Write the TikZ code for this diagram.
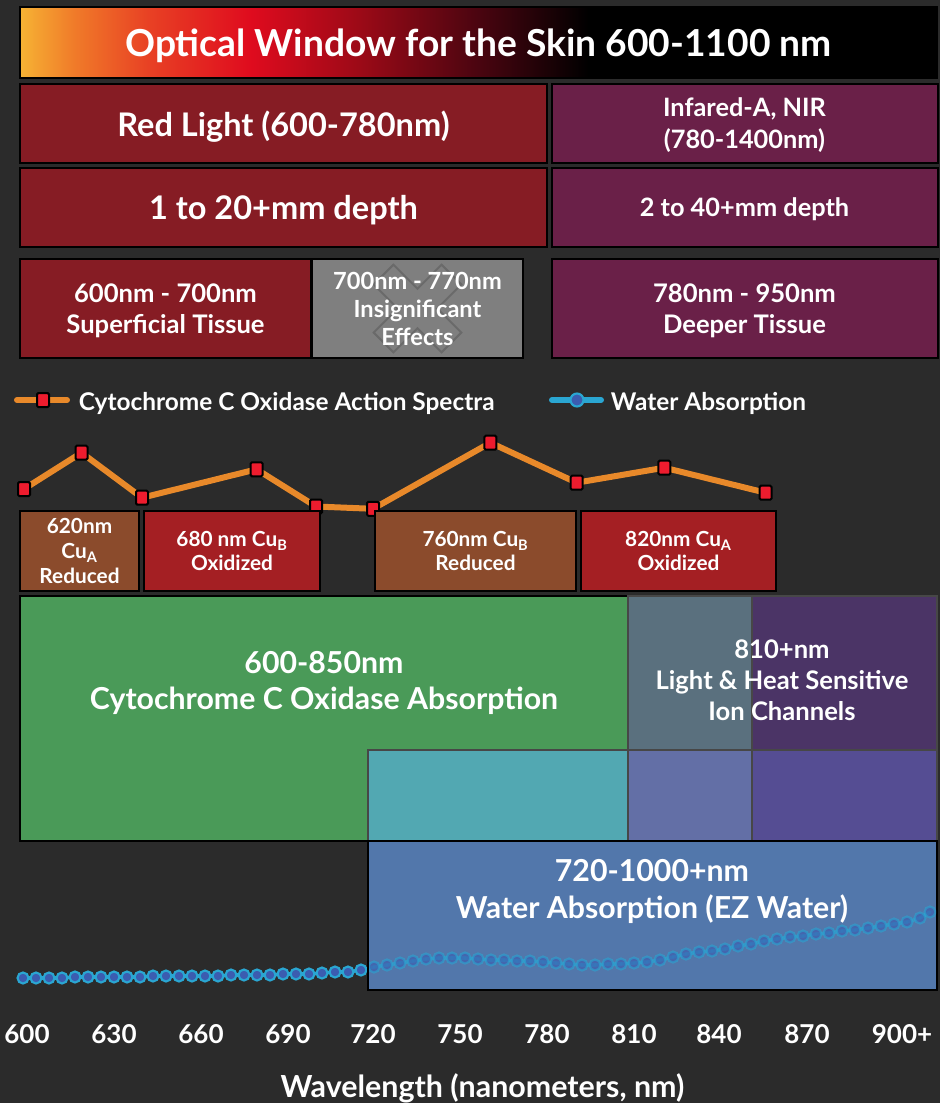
\documentclass[tikz,border=0pt]{standalone}
\usepackage{fontspec}
\setmainfont{Lato}
\usetikzlibrary{positioning}

\newcommand{\pxu}{0.75pt}

\definecolor{bgdark}{HTML}{2B2B2B}
\definecolor{redband}{HTML}{861C24}
\definecolor{nirband}{HTML}{6A2048}
\definecolor{greyband}{HTML}{7F7F7F}
\definecolor{xline}{HTML}{6A6A6A}
\definecolor{specorange}{HTML}{E8892A}
\definecolor{specred}{HTML}{EE1C2E}
\definecolor{wline}{HTML}{2AA6D2}
\definecolor{wfill}{HTML}{3B5CB0}
\definecolor{cubrown}{HTML}{8B4B2C}
\definecolor{cured}{HTML}{A41F23}
\definecolor{ccogreen}{HTML}{4A9A58}
\definecolor{ionslate}{HTML}{5A707E}
\definecolor{ionpurple}{HTML}{4B3466}
\definecolor{mixteal}{HTML}{52A8B2}
\definecolor{mixlav}{HTML}{636FA6}
\definecolor{mixviolet}{HTML}{554D93}
\definecolor{ezblue}{HTML}{5277AB}
\definecolor{blockedge}{HTML}{474747}
\definecolor{wgold}{HTML}{F6B334}
\definecolor{worange}{HTML}{F07A29}
\definecolor{wflame}{HTML}{E84124}
\definecolor{wred}{HTML}{DF0B1E}
\definecolor{wcrimson}{HTML}{9C0A17}
\definecolor{wmaroon}{HTML}{4A0510}

\pgfdeclarehorizontalshading{skinwindow}{100bp}{color(0bp)=(wgold); color(25bp)=(wgold); color(28bp)=(worange); color(32bp)=(wflame); color(37.6bp)=(wred); color(43.5bp)=(wcrimson); color(50bp)=(wmaroon); color(56bp)=(black); color(100bp)=(black)}

\tikzset{every picture/.style={line width=0.75pt},
  band/.style={draw=black, line width=1.5pt, inner sep=0pt, text=white, align=center, text depth=0pt},
  titlebar/.style={band, shade, shading=skinwindow, font=\fontsize{27.9}{33}\selectfont\bfseries},
  bigtxt/.style={font=\fontsize{24.4}{29}\selectfont\bfseries},
  midtxt/.style={font=\fontsize{19}{24}\selectfont\bfseries},
  rowtxt/.style={font=\fontsize{19.2}{23.5}\selectfont\bfseries},
  gaptxt/.style={font=\fontsize{17.7}{21}\selectfont\bfseries, text=white, align=center},
  legendtxt/.style={font=\fontsize{18.3}{21}\selectfont\bfseries, text=white, anchor=west, text depth=0pt},
  cubox/.style={band, minimum height=80*\pxu, font=\fontsize{15.6}{18.5}\selectfont\bfseries},
  block/.style={draw=blockedge, line width=1.1pt},
  specline/.style={specorange, line width=6*\pxu, line cap=round},
  specmark/.style={draw=black, fill=specred, line width=1.5pt, rounded corners=1pt,
    minimum width=12*\pxu, minimum height=14*\pxu, inner sep=0pt},
  waterline/.style={wline, line width=3.5*\pxu, line cap=round},
  waterdot/.style={circle, draw=wline, fill=wfill, line width=1.6pt, minimum size=11*\pxu, inner sep=0pt},
  ticklabel/.style={font=\fontsize{19.5}{22}\selectfont\bfseries, text=white, text depth=0pt},
  xmark/.style={path picture={\draw[xline, line width=1.5pt, shift={(path picture bounding box.center)}]
    (0,-19.8) -- (24.04,-43.84) -- (43.84,-24.04) -- (19.8,0) -- (43.84,24.04) -- (24.04,43.84) --
    (0,19.8) -- (-24.04,43.84) -- (-43.84,24.04) -- (-19.8,0) -- (-43.84,-24.04) -- (-24.04,-43.84) -- cycle;}}
}

\begin{document}
\begin{tikzpicture}[x=0.75pt,y=0.75pt,yscale=-1,xscale=1]
\useasboundingbox (0,0) rectangle (940,1103);
\fill[bgdark] (0,0) rectangle (940,1103);

% Title bar
\node[titlebar, minimum width=917*\pxu, minimum height=71*\pxu] (title) at (478.5,42.5) {Optical Window for the Skin 600-1100 nm};

% Bands
\node[band, bigtxt, fill=redband, minimum width=527*\pxu, minimum height=79*\pxu] (redlight) at (283.5,123.5) {Red Light (600-780nm)};
\node[band, midtxt, fill=nirband, minimum width=386*\pxu, minimum height=79*\pxu] (nir) at (744.5,123.5) {Infared-A, NIR\\(780-1400nm)};
\node[band, bigtxt, fill=redband, minimum width=527*\pxu, minimum height=79*\pxu] (reddepth) at (283.5,207.5) {1 to 20+mm depth};
\node[band, midtxt, fill=nirband, minimum width=386*\pxu, minimum height=79*\pxu] (nirdepth) at (744.5,207.5) {2 to 40+mm depth};
\node[band, rowtxt, fill=redband, minimum width=291*\pxu, minimum height=99*\pxu] (superficial) at (165.5,308.5) {600nm - 700nm\\Superficial Tissue};
\node[band, fill=greyband, xmark, minimum width=211*\pxu, minimum height=99*\pxu] (gap) at (417.5,308.5) {};
\node[gaptxt] (gaptext) at (gap.center) {700nm - 770nm\\Insignificant\\Effects};
\node[band, rowtxt, fill=nirband, minimum width=386*\pxu, minimum height=99*\pxu] (deeper) at (744.5,308.5) {780nm - 950nm\\Deeper Tissue};

% Legend
\coordinate (lsA) at (17,400);
\coordinate (lsB) at (67,400);
\draw[specline, line width=6*\pxu] (lsA) -- (lsB);
\node[specmark] (lsmark) at (43,400) {};
\node[legendtxt] (lstext) at (74,401) {Cytochrome C Oxidase Action Spectra};
\coordinate (lwA) at (552,400);
\coordinate (lwB) at (601,400);
\draw[waterline, line width=6*\pxu] (lwA) -- (lwB);
\node[waterdot, minimum size=13*\pxu] (lwmark) at (577,400) {};
\node[legendtxt] (lwtext) at (606,401) {Water Absorption};

% Action spectra
\foreach \x/\y [count=\i] in {24/489, 81.5/452.7, 142/497.7, 256.6/469.3, 316/506.5, 373/508.8, 490.4/442.7, 576.7/482.7, 664.3/467.7, 765.6/492.7}
  \coordinate (s\i) at (\x,\y);
\foreach \i [remember=\i as \j (initially 1)] in {2,...,10}
  \draw[specline] (s\j) -- (s\i);
\foreach \i in {1,...,10}
  \node[specmark] (sm\i) at (s\i) {};

% Copper centre labels
\node[cubox, fill=cubrown, minimum width=119*\pxu] (cua620) at (79.5,551) {620nm\\Cu\textsubscript{A}\\Reduced};
\node[cubox, fill=cured, minimum width=176*\pxu] (cub680) at (232,551) {680 nm Cu\textsubscript{B}\\Oxidized};
\node[cubox, fill=cubrown, minimum width=201*\pxu] (cub760) at (475.5,551) {760nm Cu\textsubscript{B}\\Reduced};
\node[cubox, fill=cured, minimum width=195*\pxu] (cua820) at (678.5,551) {820nm Cu\textsubscript{A}\\Oxidized};

% Absorption blocks
\draw[block, fill=ccogreen, draw=black, line width=1.5pt] (20,596) rectangle (628,841);
\draw[block, fill=ionslate] (628,596) rectangle (752,750);
\draw[block, fill=ionpurple] (752,596) rectangle (937,750);
\draw[block, fill=mixteal] (368,750) rectangle (628,841);
\draw[block, fill=mixlav] (628,750) rectangle (752,841);
\draw[block, fill=mixviolet] (752,750) rectangle (937,841);
\node[text=white, align=center, text depth=0pt, font=\fontsize{22.7}{27}\selectfont\bfseries] (ccotext) at (324,680) {600-850nm\\Cytochrome C Oxidase Absorption};
\node[text=white, align=center, font=\fontsize{19.2}{23.25}\selectfont\bfseries] (iontext) at (782,680) {810+nm\\Light \& Heat Sensitive\\Ion Channels};

% Water absorption curve
\foreach \x/\y [count=\i] in {23/978, 36/978, 49/978, 62/978, 75/977, 88/977, 101/977, 114/977, 127/977, 140/977,
  153/976, 166/976, 179/976, 192/976, 205/976, 218/976, 231/975, 244/975, 257/975, 270/975,
  283/974, 296/974, 309/974, 322/973, 335/972, 348/972, 361/970, 374/967, 387/965, 400/963,
  413/961, 426/959, 439/958, 452/958, 465/958, 478/959, 491/960, 504/960, 517/961, 530/961,
  543/962, 556/963, 569/964, 582/965, 595/965, 608/964, 621/964, 634/963, 647/962, 660/960,
  673/957, 686/954, 699/952, 712/951, 725/949, 738/946, 751/944, 764/941, 777/939, 790/937,
  803/936, 816/934, 829/933, 842/931, 855/930, 868/928, 881/926, 894/924, 907/922, 920/918, 930/912}
  \coordinate (w\i) at (\x,\y);
\foreach \i [remember=\i as \j (initially 1)] in {2,...,71}
  \draw[waterline] (w\j) -- (w\i);
\foreach \i in {1,...,71}
  \node[waterdot] (wd\i) at (w\i) {};

\node[band, fill=ezblue, minimum width=569*\pxu, minimum height=149*\pxu] (ezwater) at (652.5,915.5) {};
\begin{scope}[opacity=0.6]
  \clip (369,842) rectangle (936,989);
  \foreach \i [remember=\i as \j (initially 1)] in {2,...,71}
    \draw[waterline] (w\j) -- (w\i);
  \foreach \i in {1,...,71}
    \node[waterdot] (wdim\i) at (w\i) {};
\end{scope}
\node[text=white, align=center, text depth=0pt, font=\fontsize{22.7}{27.75}\selectfont\bfseries] (eztext) at (652,889) {720-1000+nm\\Water Absorption (EZ Water)};

% Axis
\foreach \lab/\xx [count=\i] in {600/27, 630/114, 660/201, 690/288, 720/373, 750/460, 780/547, 810/634, 840/719, 870/807, 900+/902}
  \node[ticklabel] (tick\i) at (\xx,1034) {\lab};
\node[ticklabel, font=\fontsize{22.8}{26}\selectfont\bfseries] (axtitle) at (482.5,1086) {Wavelength (nanometers, nm)};

\end{tikzpicture}
\end{document}
